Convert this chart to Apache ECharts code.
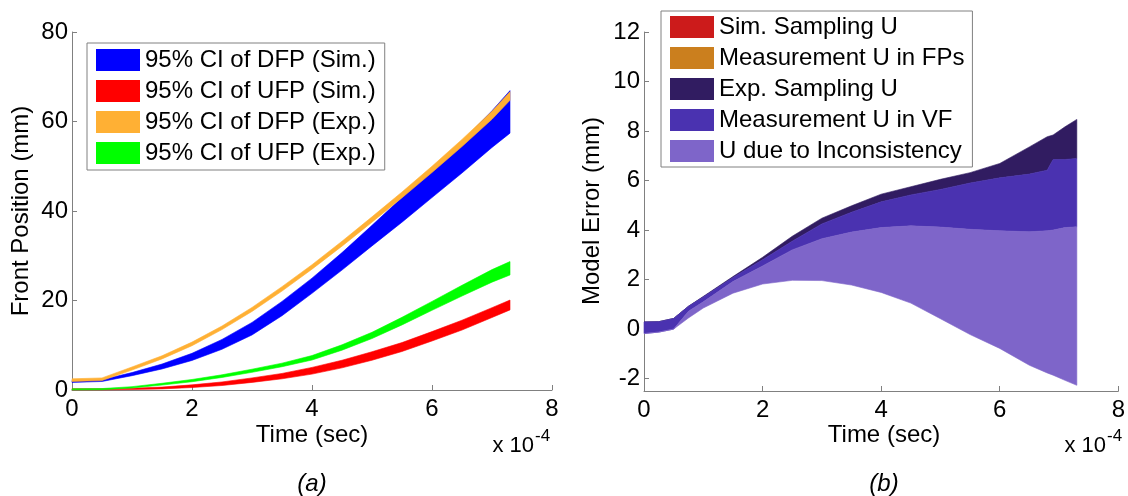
<!DOCTYPE html>
<html>
<head>
<meta charset="utf-8">
<script src="https://cdn.jsdelivr.net/npm/echarts@6/dist/echarts.min.js"></script>
<style>
  html, body { margin: 0; padding: 0; background: #ffffff; }
  #chart { width: 1128px; height: 496px; }
</style>
</head>
<body>
<div id="chart"></div>
<script>
// Time is given in units of 1e-4 s (the axes carry an "x 10^-4" multiplier).

// ---- (a) front positions: 95% confidence bands ----
const timeA = [0, 0.5, 1, 1.5, 2, 2.5, 3, 3.5, 4, 4.5, 5, 5.5, 6, 6.5, 7, 7.3];
const dfpSimLo = [1.7, 1.9, 3.2, 4.7, 6.6, 9.1, 12.3, 16.6, 21.6, 26.8, 32.2, 37.5, 43.0, 48.5, 54.2, 57.4];
const dfpSimHi = [2.1, 2.3, 3.9, 5.8, 8.2, 11.3, 15.1, 19.8, 25.0, 30.7, 36.8, 43.0, 49.3, 55.6, 62.4, 66.9];
const ufpSimLo = [0.03, 0.03, 0.1, 0.25, 0.55, 1.0, 1.7, 2.5, 3.55, 4.95, 6.65, 8.6, 10.95, 13.4, 16.2, 17.9];
const ufpSimHi = [0.27, 0.27, 0.4, 0.65, 1.15, 1.8, 2.7, 3.7, 5.05, 6.65, 8.55, 10.6, 13.05, 15.6, 18.4, 20.1];
const dfpExpLo = [1.9, 2.1, 4.45, 6.95, 9.9, 13.5, 17.55, 22.1, 27.0, 32.15, 37.5, 42.95, 48.6, 54.4, 60.5, 64.75];
const dfpExpHi = [2.5, 2.7, 5.15, 7.65, 10.7, 14.3, 18.45, 23.1, 28.0, 33.25, 38.7, 44.25, 50.0, 56.0, 62.3, 66.65];
const ufpExpLo = [0.03, 0.08, 0.45, 1.1, 1.85, 2.8, 3.95, 5.2, 6.7, 8.9, 11.5, 14.55, 17.8, 21.0, 24.1, 25.7];
const ufpExpHi = [0.27, 0.32, 0.75, 1.5, 2.35, 3.4, 4.65, 6.0, 7.7, 10.1, 12.9, 16.25, 19.8, 23.4, 26.9, 28.7];

// ---- (b) model error: layered uncertainty bands ----
const timeB = [0, 0.25, 0.5, 0.75, 1, 1.5, 2, 2.5, 3, 3.5, 4, 4.5, 5, 5.5, 6, 6.5, 6.8, 6.9, 7.1, 7.3];
const errLower = [-0.18, -0.12, 0.0, 0.45, 0.85, 1.45, 1.82, 1.97, 1.96, 1.78, 1.48, 1.05, 0.42, -0.22, -0.78, -1.46, -1.77, -1.86, -2.07, -2.27];
const inconsTop = [-0.18, -0.12, 0.0, 0.72, 1.1, 1.92, 2.55, 3.2, 3.65, 3.92, 4.1, 4.17, 4.12, 4.03, 3.97, 3.93, 3.97, 4.0, 4.1, 4.13];
const measVfTop = [0.29, 0.3, 0.43, 0.92, 1.3, 2.08, 2.8, 3.55, 4.25, 4.72, 5.14, 5.42, 5.64, 5.9, 6.11, 6.26, 6.42, 6.85, 6.85, 6.89];
const expSampTop = [0.29, 0.3, 0.43, 0.92, 1.32, 2.12, 2.9, 3.75, 4.48, 4.98, 5.45, 5.75, 6.05, 6.32, 6.69, 7.36, 7.77, 7.84, 8.17, 8.47];
// these two components are not distinguishable in the drawn range
const simSampLo = [], simSampHi = [];
const measFpLo = [], measFpHi = [];

// ---- axis ticks ----
const xTicks = [0, 2, 4, 6, 8];
const yTicksA = [0, 20, 40, 60, 80];
const yTicksB = [-2, 0, 2, 4, 6, 8, 10, 12];

// ---- names ----
const namesA = ['95% CI of DFP (Sim.)', '95% CI of UFP (Sim.)', '95% CI of DFP (Exp.)', '95% CI of UFP (Exp.)'];
const namesB = ['Sim. Sampling U', 'Measurement U in FPs', 'Exp. Sampling U', 'Measurement U in VF', 'U due to Inconsistency'];

const FONT = '"Liberation Sans", Arial, Helvetica, sans-serif';
const AXIS_GRAY = '#808080';

// Filled band between a lower and an upper curve, projected through the axes.
function band(name, color, t, lo, hi, idx) {
  const rows = t.map((x, i) => [x, lo[i], hi[i]]);
  return {
    type: 'custom',
    name: name,
    xAxisIndex: idx,
    yAxisIndex: idx,
    data: rows,
    encode: { x: 0, y: [1, 2] },
    itemStyle: { color: color },
    silent: true,
    renderItem: function (params, api) {
      if (params.dataIndex !== 0) return null;
      const top = rows.map(r => api.coord([r[0], r[2]]));
      const bottom = rows.map(r => api.coord([r[0], r[1]])).reverse();
      return {
        type: 'polygon',
        shape: { points: top.concat(bottom) },
        style: { fill: color, stroke: color, lineWidth: 0.6 }
      };
    }
  };
}

function xAxisDef(idx) {
  return {
    type: 'value', gridIndex: idx, min: 0, max: 8, interval: 2,
    axisLine: { show: true, onZero: false, lineStyle: { color: AXIS_GRAY, width: 1 } },
    axisTick: { show: true, inside: true, length: 5, customValues: xTicks, lineStyle: { color: AXIS_GRAY } },
    axisLabel: { customValues: xTicks, margin: 7, fontSize: 24, fontFamily: FONT, color: '#000' },
    splitLine: { show: false }
  };
}

function yAxisDef(idx, min, max, ticks) {
  return {
    type: 'value', gridIndex: idx, min: min, max: max,
    axisLine: { show: true, onZero: false, lineStyle: { color: AXIS_GRAY, width: 1 } },
    axisTick: { show: true, inside: true, length: 5, customValues: ticks, lineStyle: { color: AXIS_GRAY } },
    axisLabel: { customValues: ticks, margin: 4, fontSize: 24, fontFamily: FONT, color: '#000' },
    splitLine: { show: false }
  };
}

function legendDef(names, left, top, pad) {
  return {
    data: names,
    orient: 'vertical',
    left: left, top: top,
    icon: 'rect',
    itemWidth: 44, itemHeight: 22, itemGap: 7,
    padding: pad,
    borderColor: AXIS_GRAY, borderWidth: 1, borderRadius: 0,
    backgroundColor: '#ffffff',
    selectedMode: false,
    textStyle: { fontSize: 24, fontFamily: FONT, color: '#000' }
  };
}

function text(x, y, str, opts) {
  return Object.assign({
    type: 'text', x: x, y: y,
    style: Object.assign({
      text: str, fontSize: 24, fontFamily: FONT, fill: '#000',
      textAlign: 'center', textVerticalAlign: 'middle'
    }, (opts && opts.style) || {})
  }, (opts && opts.extra) || {});
}

const chart = echarts.init(document.getElementById('chart'), null, { renderer: 'canvas' });

chart.setOption({
  animation: false,
  backgroundColor: '#ffffff',
  grid: [
    { left: 72, top: 32, width: 480, height: 358 },
    { left: 644, top: 32, width: 480, height: 359 }
  ],
  xAxis: [xAxisDef(0), xAxisDef(1)],
  yAxis: [
    Object.assign(yAxisDef(0, 0, 80, yTicksA), { interval: 20 }),
    yAxisDef(1, -2.5, 12, yTicksB)
  ],
  legend: [
    legendDef(namesA, 87, 43, [5, 9, 5, 9]),
    legendDef(namesB, 661, 11, [4, 8, 4, 9])
  ],
  series: [
    band(namesA[0], '#0000ff', timeA, dfpSimLo, dfpSimHi, 0),
    band(namesA[1], '#ff0000', timeA, ufpSimLo, ufpSimHi, 0),
    band(namesA[2], '#ffb034', timeA, dfpExpLo, dfpExpHi, 0),
    band(namesA[3], '#00ff00', timeA, ufpExpLo, ufpExpHi, 0),
    band(namesB[0], '#cc1b1b', [], simSampLo, simSampHi, 1),
    band(namesB[1], '#cb7f1e', [], measFpLo, measFpHi, 1),
    band(namesB[2], '#311c61', timeB, measVfTop, expSampTop, 1),
    band(namesB[3], '#4a32b0', timeB, inconsTop, measVfTop, 1),
    band(namesB[4], '#7e65c9', timeB, errLower, inconsTop, 1)
  ],
  graphic: [
    text(21, 211, 'Front Position (mm)', { extra: { rotation: Math.PI / 2 } }),
    text(592, 211, 'Model Error (mm)', { extra: { rotation: Math.PI / 2 } }),
    text(312, 435, 'Time (sec)'),
    text(884, 435, 'Time (sec)'),
    text(534, 446, 'x 10', { style: { textAlign: 'right', fontSize: 22 } }),
    text(535, 436, '-4', { style: { textAlign: 'left', fontSize: 17 } }),
    text(1106, 446, 'x 10', { style: { textAlign: 'right', fontSize: 22 } }),
    text(1107, 436, '-4', { style: { textAlign: 'left', fontSize: 17 } }),
    text(312, 484, '(a)', { style: { fontStyle: 'italic' } }),
    text(884, 484, '(b)', { style: { fontStyle: 'italic' } })
  ]
});
</script>
</body>
</html>
